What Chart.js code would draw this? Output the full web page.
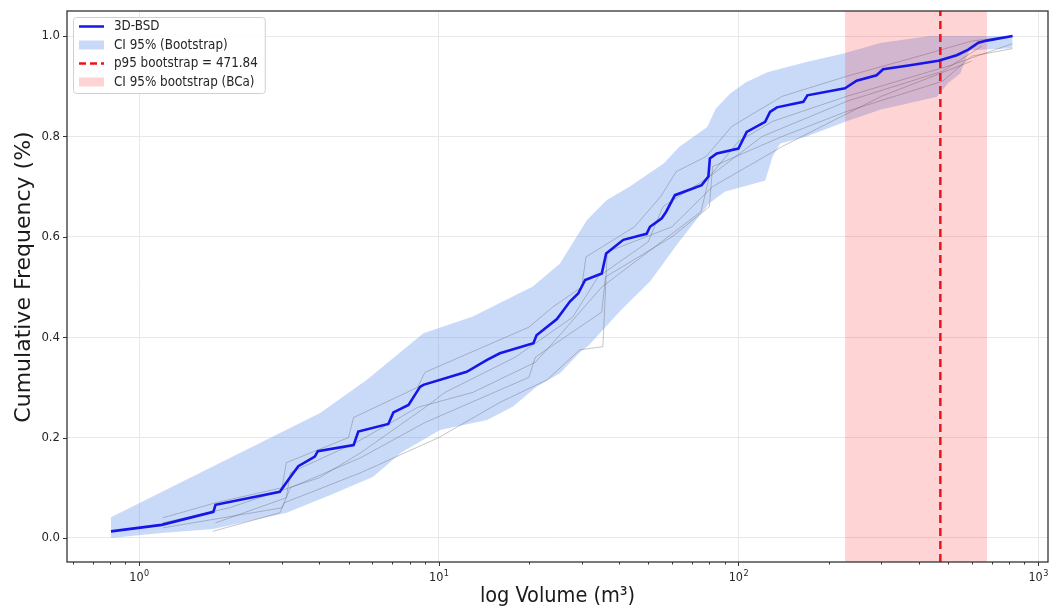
<!DOCTYPE html>
<html>
<head>
<meta charset="utf-8">
<script src="https://cdn.jsdelivr.net/npm/chart.js@4.4.1/dist/chart.umd.min.js"></script>
<style>
    html, body { margin: 0; padding: 0; background: #fff; }
    #wrap { width: 1051px; height: 609px; }
</style>
</head>
<body>
<div id="wrap"><canvas id="cdfChart" width="1051" height="609"></canvas></div>
<script>
/*
 * 3D-BSD 누적 분포 + bootstrap 신뢰구간
 * 값은 모두 그림에서 읽은 추정치
 * */

// 메인 곡선 (3D-BSD)
const mainX = [0.806, 1.19, 1.77, 1.80, 2.95, 3.15, 3.40, 3.86, 3.95, 5.2, 5.39, 6.79, 7.06, 7.93, 8.66, 8.89,
    12.4, 14.5, 16.0, 20.7, 21.2, 24.8, 27.4, 29.2, 30.8, 35.0, 36.2, 41.3, 49.4, 50.7, 55.5, 57.4, 61.4,
    75.4, 79.4, 80.3, 84.7, 100, 106.6, 122.8, 127.5, 134.4, 164.7, 169.9, 226.8, 248, 289, 304, 374,
    465, 535, 585, 632, 674, 822];
const mainY = [0.013, 0.026, 0.052, 0.066, 0.092, 0.116, 0.143, 0.162, 0.173, 0.185, 0.212, 0.227, 0.250, 0.265, 0.301, 0.305,
    0.331, 0.355, 0.368, 0.388, 0.404, 0.436, 0.471, 0.487, 0.514, 0.527, 0.567, 0.594, 0.606, 0.620, 0.637, 0.650, 0.683,
    0.703, 0.720, 0.756, 0.766, 0.776, 0.809, 0.829, 0.849, 0.858, 0.869, 0.882, 0.896, 0.911, 0.922, 0.934, 0.942,
    0.951, 0.962, 0.973, 0.987, 0.991, 1.000];

// CI 95% (Bootstrap) 상한 / 하한
const upperX = [0.806, 4.02, 5.76, 8.89, 13.0, 20.6, 25.4, 31.2, 36.3, 43.3, 56.3, 63.4, 78.7, 84, 93.7, 106,
    125, 138, 170, 226, 297, 435, 822];
const upperY = [0.041, 0.249, 0.315, 0.408, 0.441, 0.501, 0.547, 0.633, 0.673, 0.700, 0.746, 0.779, 0.819, 0.855, 0.885, 0.908,
    0.928, 0.935, 0.949, 0.966, 0.986, 1.000, 1.000];
const lowerX = [0.806, 1.19, 1.77, 3.11, 4.33, 6.05, 7.5, 10.1, 14.5, 17.7, 21.2, 25.4, 29.6, 31.7, 40.6, 50.7,
    63.4, 80, 90, 123, 130, 138, 169, 226, 297, 460, 500, 550, 590, 822];
const lowerY = [0.000, 0.010, 0.018, 0.050, 0.085, 0.122, 0.170, 0.215, 0.235, 0.262, 0.301, 0.328, 0.370, 0.384, 0.454, 0.511,
    0.590, 0.667, 0.690, 0.712, 0.760, 0.786, 0.800, 0.829, 0.853, 0.879, 0.906, 0.926, 0.972, 0.976];

// bootstrap 샘플 곡선 (회색)
const boot1X = [1.2, 1.8, 3.0, 3.1, 5.0, 5.2, 8.5, 9.0, 20, 24, 30, 31, 45, 55, 62, 78, 95, 140, 230, 400, 600, 822];
const boot1Y = [0.04, 0.07, 0.10, 0.15, 0.20, 0.24, 0.30, 0.33, 0.42, 0.46, 0.50, 0.56, 0.62, 0.68, 0.73, 0.76, 0.82, 0.88, 0.92, 0.96, 0.99, 1.0];
const boot2X = [1.2, 3.0, 3.2, 5.5, 9, 20, 21, 35, 36, 60, 80, 82, 140, 230, 480, 600, 822];
const boot2Y = [0.02, 0.06, 0.10, 0.16, 0.23, 0.32, 0.36, 0.45, 0.52, 0.60, 0.66, 0.74, 0.80, 0.85, 0.91, 0.96, 0.975];
const boot3X = [1.8, 3.1, 3.2, 5.3, 8.5, 13, 21, 25, 35, 50, 75, 80, 120, 230, 480, 650];
const boot3Y = [0.03, 0.08, 0.13, 0.19, 0.26, 0.29, 0.35, 0.40, 0.50, 0.57, 0.65, 0.72, 0.80, 0.87, 0.93, 0.98];
const boot4X = [1.76, 2.95, 3.05, 5.5, 10, 16, 23, 29.6, 35.3, 36.5, 60, 82, 140, 300, 600];
const boot4Y = [0.013, 0.05, 0.07, 0.13, 0.20, 0.27, 0.315, 0.375, 0.381, 0.57, 0.62, 0.70, 0.78, 0.88, 0.95];
const boot5X = [1.2, 2.0, 4.0, 5.5, 9, 10.5, 18, 28, 34, 50, 56, 80, 100, 130, 230, 500, 822];
const boot5Y = [0.03, 0.06, 0.12, 0.17, 0.26, 0.29, 0.36, 0.44, 0.52, 0.59, 0.66, 0.72, 0.79, 0.83, 0.88, 0.94, 0.985];

// p95 와 BCa 구간
const p95Value = 471.84;
const bcaRange = [227, 675];

// 축 / 눈금 / 라벨
const X_MIN = 0.575, X_MAX = 1079;
const Y_MIN = -0.048, Y_MAX = 1.05;
const xTickValues = [1, 10, 100, 1000];
const xTickBase = ['10', '10', '10', '10'];
const xTickExp = ['0', '1', '2', '3'];
const yTickValues = [0.0, 0.2, 0.4, 0.6, 0.8, 1.0];
const yTickLabels = ['0.0', '0.2', '0.4', '0.6', '0.8', '1.0'];
const legendLabels = ['3D-BSD', 'CI 95% (Bootstrap)', 'p95 bootstrap = ' + p95Value.toFixed(2), 'CI 95% bootstrap (BCa)'];
const xTitle = 'log Volume (m\u00b3)';
const yTitle = 'Cumulative Frequency (%)';

const FONT = "'DejaVu Sans Condensed', 'DejaVu Sans', sans-serif";
const TXT = '#262626';
const BAND = 'rgba(100,149,237,0.35)';
const PINK = 'rgba(255,0,0,0.17)';

/*
 * x 배열, y 배열 -> {x, y} 점 목록
 * */
const toPoints = function (xs, ys) {
    return xs.map((x, i) => ({x: x, y: ys[i]}));
};

const greyLine = function (xs, ys) {
    return {
        label: '', data: toPoints(xs, ys), borderColor: 'rgba(90,90,90,0.35)',
        borderWidth: 1, fill: false, order: 3
    };
};

/*
 * 눈금 표시, x 눈금 라벨, y 축 제목, 테두리, 범례를 그리는 플러그인
 * */
const decorPlugin = {
    id: 'decor',
    afterDraw(chart) {
        const ctx = chart.ctx;
        const a = chart.chartArea;
        const sx = chart.scales.x, sy = chart.scales.y;
        ctx.save();
        ctx.strokeStyle = '#333';
        ctx.lineWidth = 1;
        const seg = function (x1, y1, x2, y2) {
            ctx.beginPath(); ctx.moveTo(x1, y1); ctx.lineTo(x2, y2); ctx.stroke();
        };
        // x 눈금 (주/보조)
        xTickValues.forEach(v => {
            const p = Math.round(sx.getPixelForValue(v)) + 0.5;
            seg(p, a.bottom, p, a.bottom + 4);
        });
        for (let e = -1; e <= 3; e++) {
            for (let k = 2; k <= 9; k++) {
                const v = k * Math.pow(10, e);
                if (v < X_MIN || v > X_MAX) continue;
                const p = Math.round(sx.getPixelForValue(v)) + 0.5;
                seg(p, a.bottom, p, a.bottom + 2.5);
            }
        }
        yTickValues.forEach(v => {
            const p = Math.round(sy.getPixelForValue(v)) + 0.5;
            seg(a.left - 4, p, a.left, p);
        });
        // x 눈금 라벨 (10^n 형태)
        ctx.fillStyle = TXT;
        ctx.textBaseline = 'alphabetic';
        xTickValues.forEach((v, i) => {
            const p = sx.getPixelForValue(v);
            ctx.font = '12.5px ' + FONT;
            const bw = ctx.measureText(xTickBase[i]).width;
            ctx.font = '9px ' + FONT;
            const ew = ctx.measureText(xTickExp[i]).width;
            const x0 = p - (bw + ew) / 2;
            ctx.font = '12.5px ' + FONT;
            ctx.fillText(xTickBase[i], x0, a.bottom + 19);
            ctx.font = '9px ' + FONT;
            ctx.fillText(xTickExp[i], x0 + bw + 0.5, a.bottom + 13.5);
        });
        // y 축 제목
        ctx.save();
        ctx.translate(24, 277);
        ctx.rotate(-Math.PI / 2);
        ctx.font = "22px 'DejaVu Sans', sans-serif";
        ctx.fillStyle = '#1a1a1a';
        ctx.textAlign = 'center';
        ctx.textBaseline = 'middle';
        ctx.fillText(yTitle, 0, 0);
        ctx.restore();
        // 테두리
        ctx.lineWidth = 1.3;
        ctx.strokeStyle = '#333';
        ctx.strokeRect(a.left, a.top, a.right - a.left, a.bottom - a.top);

        // 범례
        const ds = chart.data.datasets;
        const items = [
            {kind: 'line', color: ds[0].borderColor, text: legendLabels[0]},
            {kind: 'patch', color: BAND, text: legendLabels[1]},
            {kind: 'dash', color: ds[1].borderColor, text: legendLabels[2]},
            {kind: 'patch', color: PINK, text: legendLabels[3]}
        ];
        ctx.font = '13.3px ' + FONT;
        let tw = 0;
        items.forEach(it => { tw = Math.max(tw, ctx.measureText(it.text).width); });
        const lx = a.left + 6, ly = a.top + 6;
        const lw = 41 + tw + 7, lh = 76;
        ctx.beginPath();
        ctx.roundRect(lx + 0.5, ly + 0.5, lw, lh, 3);
        ctx.fillStyle = 'rgba(255,255,255,0.85)';
        ctx.fill();
        ctx.strokeStyle = '#d0d0d0';
        ctx.lineWidth = 1;
        ctx.stroke();
        items.forEach((it, i) => {
            const cy = ly + 9.5 + i * 18.5;
            const hx = lx + 6;
            if (it.kind === 'patch') {
                ctx.fillStyle = it.color;
                ctx.fillRect(hx, cy - 4.5, 25, 9);
            } else {
                ctx.strokeStyle = it.color;
                ctx.lineWidth = 2.5;
                ctx.setLineDash(it.kind === 'dash' ? [7, 4] : []);
                seg(hx, cy, hx + 25, cy);
                ctx.setLineDash([]);
            }
            ctx.fillStyle = TXT;
            ctx.textAlign = 'left';
            ctx.textBaseline = 'middle';
            ctx.fillText(it.text, lx + 41, cy + 0.5);
        });
        ctx.restore();
    }
};

document.addEventListener('DOMContentLoaded', function () {
    const ctx = document.getElementById('cdfChart').getContext('2d');

    new Chart(ctx, {
        type: 'line',
        data: {
            datasets: [
                {label: legendLabels[0], data: toPoints(mainX, mainY), borderColor: 'rgb(22,22,232)',
                    borderWidth: 2.6, fill: false, order: 0},
                {label: legendLabels[2], data: toPoints([p95Value, p95Value], [Y_MIN, Y_MAX]),
                    borderColor: 'rgb(232,22,28)', borderWidth: 2.5, borderDash: [8, 5], fill: false, order: 1},
                {label: legendLabels[3], data: toPoints(bcaRange, [Y_MAX, Y_MAX]),
                    backgroundColor: PINK, borderWidth: 0, fill: 'start', order: 2},
                greyLine(boot1X, boot1Y),
                greyLine(boot2X, boot2Y),
                greyLine(boot3X, boot3Y),
                greyLine(boot4X, boot4Y),
                greyLine(boot5X, boot5Y),
                {label: legendLabels[1], data: toPoints(upperX, upperY), backgroundColor: BAND,
                    borderWidth: 0, fill: '+1', order: 4},
                {label: 'lower', data: toPoints(lowerX, lowerY), borderWidth: 0, fill: false, order: 5}
            ]
        },
        options: {
            responsive: false,
            animation: false,
            layout: {padding: {left: 0, top: 11, right: 3, bottom: 0}},
            elements: {point: {radius: 0}, line: {tension: 0}},
            plugins: {legend: {display: false}, tooltip: {enabled: false}},
            scales: {
                x: {
                    type: 'logarithmic', min: X_MIN, max: X_MAX,
                    afterBuildTicks: s => { s.ticks = xTickValues.map(v => ({value: v})); },
                    afterFit: s => { s.height = 47; s.paddingLeft = 0; s.paddingRight = 0; },
                    ticks: {display: false},
                    grid: {color: '#e8e8e8', lineWidth: 1, drawTicks: false},
                    border: {display: false},
                    title: {display: true, text: xTitle, font: {family: FONT, size: 21.5}, color: '#1a1a1a',
                        padding: {top: 0, bottom: 0}}
                },
                y: {
                    min: Y_MIN, max: Y_MAX,
                    afterBuildTicks: s => { s.ticks = yTickValues.map(v => ({value: v})); },
                    afterFit: s => { s.width = 67; s.paddingTop = 0; s.paddingBottom = 0; },
                    ticks: {callback: (v, i) => yTickLabels[i], font: {family: FONT, size: 13}, color: TXT, padding: 7},
                    grid: {color: '#e8e8e8', lineWidth: 1, drawTicks: false},
                    border: {display: false},
                    title: {display: false}
                }
            }
        },
        plugins: [decorPlugin]
    });
});
</script>
</body>
</html>
